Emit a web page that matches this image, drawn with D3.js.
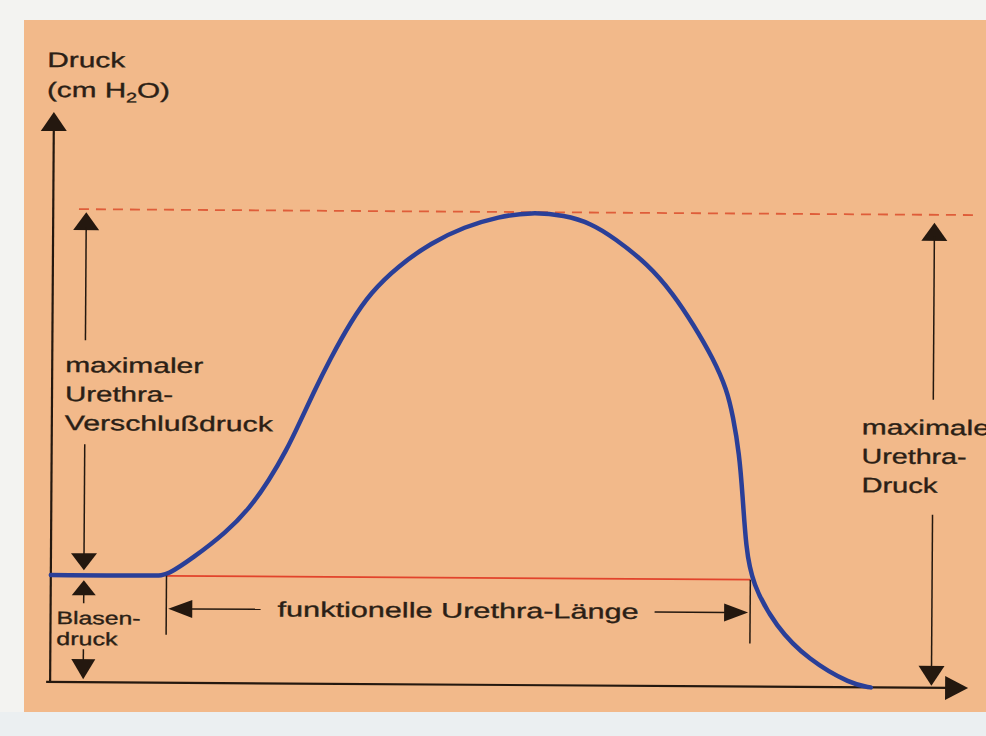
<!DOCTYPE html>
<html>
<head>
<meta charset="utf-8">
<script src="https://cdn.jsdelivr.net/npm/d3@7"></script>
<style>
  body { margin: 0; background: #f3f3f1; }
  svg { display: block; }
  text { font-family: "Liberation Sans", Arial, sans-serif; fill: #2b1f16; stroke: #2b1f16; stroke-width: 0.35; }
</style>
</head>
<body>
<svg width="986" height="736"></svg>
<script>
// urethral pressure profile, position along urethra (0..100) vs pressure (% of max)
var positions = [0, 11.8, 12.6, 15.4, 19.1, 21.6, 23.7, 25.6, 27.0, 28.4, 30.3, 32.5,
    34.6, 37.6, 41.2, 44.8, 48.5, 52.1, 55.7, 58.6, 61.1, 64.8, 67.6, 69.8, 72.0,
    73.5, 74.2, 74.9, 75.3, 75.7, 76.4, 79.0, 82.6, 87.3, 89.4];
var pressures = [22.6, 22.6, 22.7, 26.3, 31.9, 37.0, 42.9, 49.4, 55.2, 61.2, 68.8, 76.6,
    82.7, 88.4, 93.4, 96.8, 99.0, 100, 99.4, 97.7, 94.7, 89.2, 82.9, 76.5, 69.3,
    62.8, 57.1, 49.3, 40.4, 29.4, 21.8, 12.7, 5.7, 0.6, 0];

var bladderPressure = 22.6;   // Blasendruck
var maxPressure = 100;        // maximaler Urethra-Druck
var functionalLength = [12.6, 76.2];

var leftLabel = ["maximaler", "Urethra-", "Verschlußdruck"];
var rightLabel = ["maximaler", "Urethra-", "Druck"];
var bladderLabel = ["Blasen-", "druck"];
var lengthLabel = "funktionelle Urethra-Länge";

function main() {
    var svg = d3.select("svg"),
        width = +svg.attr("width"),
        height = +svg.attr("height");

    // paper
    svg.append("rect").attr("width", width).attr("height", height).attr("fill", "#f3f3f1");
    svg.append("rect").attr("y", 712).attr("width", width).attr("height", height - 712).attr("fill", "#ebeff1");
    svg.append("rect").attr("x", 24).attr("y", 20).attr("width", width - 24).attr("height", 692)
        .attr("fill", "#f2b98a");

    var x = d3.scaleLinear().domain([0, 100]).range([52, 970]);
    var y = d3.scaleLinear().domain([0, 100]).range([685, 212]);

    // the scan is slightly tilted
    var g = svg.append("g").attr("transform", "rotate(0.38, 510, 400)");

    var ink = "#24180f";

    function arrowHead(px, py, dir, len, half) {
        var pts;
        if (dir === "up") pts = [[px, py], [px - half, py + len], [px + half, py + len]];
        else if (dir === "down") pts = [[px, py], [px - half, py - len], [px + half, py - len]];
        else if (dir === "left") pts = [[px, py], [px + len, py - half], [px + len, py + half]];
        else pts = [[px, py], [px - len, py - half], [px - len, py + half]];
        g.append("path").attr("d", "M" + pts.join("L") + "Z").attr("fill", ink);
    }

    function vline(px, y1, y2, w) {
        g.append("line").attr("x1", px).attr("x2", px).attr("y1", y1).attr("y2", y2)
            .attr("stroke", ink).attr("stroke-width", w || 1.5);
    }

    function hline(x1, x2, py, w) {
        g.append("line").attr("x1", x1).attr("x2", x2).attr("y1", py).attr("y2", py)
            .attr("stroke", ink).attr("stroke-width", w || 1.5);
    }

    function label(lines, x0, y0, step, size, widths) {
        lines.forEach(function (s, i) {
            g.append("text")
                .attr("x", x0).attr("y", y0 + i * step)
                .attr("font-size", size)
                .attr("textLength", widths[i])
                .attr("lengthAdjust", "spacingAndGlyphs")
                .text(s);
        });
    }

    // axes
    vline(x(0), y(0) + 1, y(120.5) + 16, 2.2);
    arrowHead(x(0), y(120.5), "up", 19, 13);
    hline(x(0) - 4, x(100) - 18, y(0), 2.2);
    arrowHead(x(100), y(0), "right", 23, 12);

    // max pressure reference line
    g.append("line")
        .attr("x1", x(2.8)).attr("x2", x(100.3))
        .attr("y1", y(maxPressure)).attr("y2", y(maxPressure))
        .attr("stroke", "#dc4d2c").attr("stroke-width", 1.8)
        .attr("stroke-dasharray", "10,7").attr("opacity", 0.85);

    // bladder pressure line over the functional length
    g.append("line")
        .attr("x1", x(functionalLength[0])).attr("x2", x(functionalLength[1]))
        .attr("y1", y(bladderPressure)).attr("y2", y(bladderPressure))
        .attr("stroke", "#e2432b").attr("stroke-width", 1.8);

    // profile curve
    var line = d3.line()
        .x(function (d, i) { return x(positions[i]); })
        .y(function (d) { return y(d); })
        .curve(d3.curveBasis);

    g.append("path")
        .attr("d", line(pressures))
        .attr("fill", "none")
        .attr("stroke", "#2a3f98")
        .attr("stroke-width", 4.5)
        .attr("stroke-linecap", "round");

    // axis title
    g.append("text").attr("x", 45).attr("y", 70).attr("font-size", 21)
        .attr("textLength", 78).attr("lengthAdjust", "spacingAndGlyphs").text("Druck");
    var t = g.append("text").attr("x", 45).attr("y", 100).attr("font-size", 21);
    t.append("tspan").text("(cm H");
    t.append("tspan").attr("dy", 5).attr("font-size", 14).text("2");
    t.append("tspan").attr("dy", -5).text("O)");
    t.attr("textLength", 123).attr("lengthAdjust", "spacingAndGlyphs");

    // maximaler Urethra-Verschlussdruck (left dimension)
    var lx = x(3.6);
    arrowHead(lx, y(maxPressure) + 3, "up", 18, 13);
    vline(lx, y(maxPressure) + 18, 343);
    vline(lx, 447, y(bladderPressure) - 20);
    arrowHead(lx, y(bladderPressure) - 5, "down", 17, 13);
    label(leftLabel, 65, 375, 29, 21, [138, 108, 208]);

    // Blasendruck
    arrowHead(lx, y(bladderPressure) + 5, "up", 15, 12);
    vline(lx, y(bladderPressure) + 18, 606);
    vline(lx, 652, y(0) - 18);
    arrowHead(lx, y(0) - 3, "down", 20, 12);
    label(bladderLabel, 58, 627, 21, 18, [84, 61]);

    // maximaler Urethra-Druck (right dimension)
    var rx = x(96.0);
    arrowHead(rx, y(maxPressure) + 8, "up", 18, 13);
    vline(rx, y(maxPressure) + 22, 397);
    vline(rx, 512, y(0) - 18);
    arrowHead(rx, y(0) - 2, "down", 20, 13);
    label(rightLabel, 862, 432, 29, 21, [138, 105, 76]);

    // funktionelle Urethra-Laenge
    var ax1 = x(functionalLength[0]), ax2 = x(functionalLength[1]);
    vline(ax1, y(bladderPressure), 637);
    vline(ax2, y(bladderPressure), 642);
    var ay = 611;
    arrowHead(ax1 + 2, ay, "left", 24, 9);
    hline(ax1 + 24, 262, ay);
    hline(656, ax2 - 24, ay);
    arrowHead(ax2 - 2, ay, "right", 24, 9);
    g.append("text").attr("x", 279).attr("y", 618).attr("font-size", 21)
        .attr("textLength", 361).attr("lengthAdjust", "spacingAndGlyphs").text(lengthLabel);
}
main();
</script>
</body>
</html>
